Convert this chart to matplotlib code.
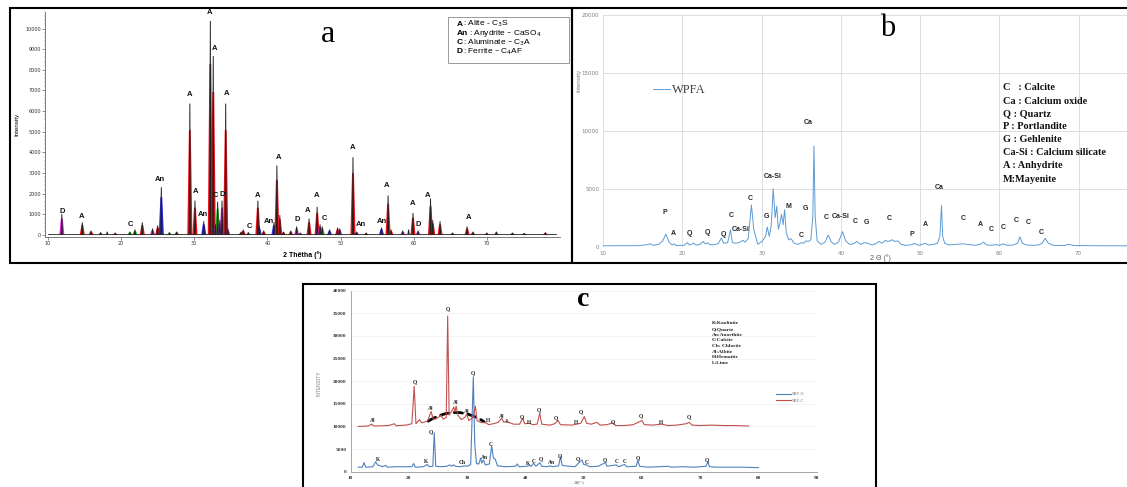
import numpy as np
import matplotlib.pyplot as plt
from matplotlib.patches import Rectangle, FancyArrowPatch
from matplotlib.ticker import MultipleLocator

W, H = 1127, 487


def fx(px):
    return px / W


def fy(py):
    return 1 - py / H


# ---------------- panel a : clinker, peaks by phase ----------------
a_pos = [11.9, 14.7, 15.9, 17.2, 18.1, 19.2, 21.2, 21.9, 22.9, 24.3,
         25.0, 25.5, 26.6, 27.6, 29.4, 30.1, 31.3, 32.2, 32.6, 32.9,
         33.2, 33.5, 33.8, 34.3, 34.6, 36.4, 36.7, 37.4, 38.7, 38.9,
         39.5, 40.9, 41.3, 41.7, 42.2, 43.2, 44.0, 44.5, 45.7, 46.8,
         47.2, 47.5, 48.5, 49.6, 49.9, 51.7, 52.2, 53.5, 55.6, 56.5,
         56.9, 58.5, 59.3, 59.9, 60.6, 62.3, 62.6, 63.6, 65.3, 67.3,
         68.1, 70.0, 71.3, 73.5, 75.1, 78.0]
a_height = [1000, 600, 200, 120, 150, 100, 150, 250, 600, 300,
            450, 2300, 120, 150, 6350, 1650, 650, 10350, 8650, 500,
            1600, 700, 1650, 6350, 300, 150, 250, 120, 1650, 400,
            200, 600, 3350, 950, 150, 200, 400, 100, 780, 1350,
            500, 400, 250, 350, 300, 3750, 150, 100, 350, 1900,
            250, 200, 250, 1050, 200, 1750, 700, 650, 100, 400,
            150, 100, 150, 100, 80, 120]
a_phase = ['D', 'A', 'A', 'C', 'X', 'D', 'C', 'C', 'A', 'D',
           'A', 'An', 'C', 'A', 'A', 'A', 'An', 'A', 'A', 'D',
           'C', 'D', 'D', 'A', 'D', 'A', 'A', 'C', 'A', 'An',
           'A', 'An', 'A', 'A', 'A', 'A', 'D', 'C', 'A', 'A',
           'D', 'C', 'An', 'A', 'D', 'A', 'An', 'A', 'An', 'A',
           'A', 'D', 'X', 'A', 'D', 'A', 'A', 'A', 'A', 'A',
           'A', 'D', 'D', 'An', 'A', 'A']
a_colors = {'A': '#f0101a', 'An': '#2a2ae0', 'C': '#18c018', 'D': '#e528e5'}

a_lab = ['D', 'A', 'C', 'An', 'A', 'A', 'An', 'A', 'A', 'C', 'D', 'A',
         'C', 'A', 'An', 'A', 'D', 'A', 'A', 'C', 'A', 'An', 'An', 'A',
         'A', 'D', 'A', 'A']
a_lab_x = [11.9, 14.65, 21.3, 25.35, 29.35, 30.2, 31.15, 32.1, 32.8, 32.9,
           33.8, 34.4, 37.55, 38.7, 40.2, 41.5, 44.1, 45.5, 46.7, 47.8,
           51.7, 52.8, 55.6, 56.3, 59.8, 60.65, 61.9, 67.45]
a_lab_y = [970, 730, 320, 2530, 6660, 1940, 840, 10600, 8870, 1740,
           1790, 6690, 240, 1740, 480, 3600, 580, 1000, 1730, 650,
           4050, 350, 490, 2220, 1340, 320, 1750, 680]

a_legend_code = ['A', 'An', 'C', 'D']
a_legend_rest = [': Alite - C$_3$S', ': Anydrite \u2013 CaSO$_4$',
                 ': Aluminate \u2013 C$_3$A', ': Ferrite \u2013 C$_4$AF']

# ---------------- panel b : WPFA ----------------
b_theta = [10.0, 14.5, 15.6, 15.9, 16.3, 17.0, 17.5, 17.9, 18.3, 18.7,
           18.9, 19.2, 20.2, 20.6, 20.9, 21.2, 21.4, 21.7, 22.2, 22.6,
           22.9, 23.2, 23.4, 23.8, 24.5, 24.9, 25.2, 25.7, 26.05, 26.3,
           26.8, 27.3, 27.6, 27.9, 28.3, 28.7, 29.0, 29.5, 30.1, 30.5,
           30.7, 30.95, 31.2, 31.45, 31.7, 31.9, 32.1, 32.3, 32.5, 32.7,
           32.9, 33.1, 33.4, 33.7, 34.1, 34.6, 35.0, 35.3, 35.6, 35.9,
           36.2, 36.45, 36.6, 36.75, 37.0, 37.5, 38.0, 38.4, 38.8, 39.2,
           39.7, 40.2, 40.6, 41.1, 41.6, 42.0, 42.5, 43.0, 43.4, 43.9,
           44.4, 44.8, 45.2, 45.6, 45.9, 46.2, 46.5, 46.8, 47.2, 47.6,
           48.2, 48.8, 49.3, 49.8, 50.2, 50.6, 51.1, 51.7, 52.2, 52.5,
           52.7, 52.85, 53.1, 53.6, 54.5, 55.4, 56.2, 57.0, 57.6, 58.0,
           58.4, 59.0, 59.6, 60.0, 60.5, 61.0, 61.8, 62.3, 62.6, 62.9,
           63.4, 64.3, 65.0, 65.4, 65.8, 66.2, 66.8, 67.5, 68.3, 68.7,
           69.5, 71.0, 73.0, 75.0, 77.0, 80.0]
b_counts = [80, 90, 180, 250, 120, 200, 500, 1080, 400, 150,
            250, 100, 120, 350, 150, 200, 320, 130, 200, 450,
            250, 330, 200, 150, 250, 750, 300, 350, 1450, 350,
            300, 400, 550, 400, 700, 3600, 1500, 200, 500, 900,
            1700, 900, 1800, 5000, 2500, 3500, 1500, 2000, 2800, 1900,
            3200, 1200, 600, 700, 300, 200, 350, 300, 500, 450,
            600, 2500, 8700, 2600, 500, 200, 400, 1000, 400, 200,
            400, 1300, 500, 200, 250, 450, 200, 350, 300, 150,
            250, 450, 300, 550, 450, 500, 600, 450, 500, 200,
            120, 150, 280, 120, 200, 280, 150, 200, 300, 900,
            3550, 900, 300, 150, 200, 250, 180, 120, 200, 400,
            150, 120, 180, 120, 250, 120, 150, 300, 850, 300,
            150, 120, 150, 300, 720, 300, 120, 100, 120, 200,
            100, 90, 80, 80, 80, 80]

b_lab = ['P', 'A', 'Q', 'Q', 'Q', 'C', 'Ca-Si', 'C', 'G', 'Ca-Si', 'M',
         'G', 'C', 'Ca', 'C', 'Ca-Si', 'C', 'G', 'C', 'P', 'A', 'Ca',
         'C', 'A', 'C', 'C', 'C', 'C', 'C']
b_lab_x = [17.8, 18.9, 20.9, 23.2, 25.2, 26.2, 27.4, 28.6, 30.6, 31.4, 33.4,
           35.5, 35.0, 35.9, 38.1, 40.0, 41.85, 43.2, 46.1, 49.0, 50.6, 52.4,
           55.4, 57.6, 59.0, 60.5, 62.2, 63.7, 65.3]
b_lab_y = [2950, 1160, 1160, 1220, 1050, 2670, 1450, 4130, 2600, 6020, 3490,
           3280, 960, 10750, 2560, 2620, 2200, 2090, 2410, 1080, 1890, 5090,
           2410, 1890, 1450, 1660, 2270, 2120, 1250]

b_legend = ['C   : Calcite', 'Ca : Calcium oxide', 'Q : Quartz',
            'P : Portlandite', 'G : Gehlenite',
            'Ca-Si : Calcium silicate', 'A : Anhydrite', 'M:Mayenite']

# ---------------- panel c : SBF-C / SBF-G ----------------
c_red_theta = [11.3, 13.0, 13.6, 14.0, 16.5, 17.5, 17.8, 19.5, 20.5, 20.9,
               21.2, 21.8, 22.2, 23.2, 23.8, 24.2, 24.8, 25.5, 25.9, 26.4,
               26.65, 26.9, 27.4, 27.7, 27.9, 28.1, 28.4, 29.0, 29.6, 29.9,
               30.3, 30.8, 31.1, 31.4, 31.7, 32.3, 33.2, 33.7, 34.5, 35.3,
               35.9, 36.3, 36.8, 37.3, 38.0, 39.0, 39.5, 39.9, 40.7, 41.2,
               42.0, 42.45, 42.8, 44.2, 45.0, 45.6, 46.0, 48.0, 49.5, 50.1,
               50.5, 51.3, 52.3, 52.8, 54.0, 55.0, 55.5, 57.0, 58.5, 60.0,
               60.4, 62.0, 63.3, 64.5, 66.0, 67.6, 68.1, 68.6, 70.0, 72.0,
               74.0, 76.0, 78.3]
c_red_counts = [10000, 10100, 10500, 10100, 10200, 10600, 10150, 10300, 10600, 18900,
                10600, 11500, 10800, 11200, 13300, 11500, 11800, 12500, 11600, 12000,
                34400, 12500, 13500, 14300, 13200, 14500, 12500, 11500, 12000, 12700,
                11300, 11800, 12500, 14500, 11300, 10900, 10800, 10400, 10600, 10900,
                11800, 10900, 11200, 10800, 10500, 10500, 11800, 10600, 10700, 10400,
                10500, 12900, 10500, 10300, 10600, 11300, 10400, 10300, 10700, 12200,
                10700, 10500, 10900, 10300, 10400, 10800, 10200, 10200, 10400, 11300,
                10400, 10300, 10500, 10200, 10300, 10600, 10900, 10300, 10200, 10300,
                10200, 10200, 10100]
c_blue_theta = [11.3, 12.0, 12.3, 12.6, 13.8, 14.3, 14.6, 15.5, 16.0, 16.3,
                18.0, 20.5, 20.8, 21.1, 22.5, 23.1, 23.5, 24.1, 24.35, 24.6,
                25.5, 26.5, 27.0, 27.3, 27.6, 28.0, 28.7, 29.6, 30.0, 30.6,
                31.05, 31.3, 31.6, 32.0, 32.3, 32.5, 32.8, 33.1, 33.8, 34.2,
                34.5, 34.8, 35.2, 36.5, 38.3, 38.6, 38.9, 40.3, 40.6, 41.0,
                41.4, 41.8, 42.5, 42.8, 43.7, 44.2, 44.6, 45.7, 46.0, 46.3,
                47.5, 48.5, 49.7, 50.0, 50.5, 51.0, 52.5, 53.7, 54.0, 55.6,
                56.0, 57.0, 57.4, 59.0, 59.3, 59.6, 61.0, 63.0, 64.5, 65.0,
                67.0, 69.0, 71.0, 71.3, 71.6, 73.0, 75.0, 77.0, 80.0]
c_blue_counts = [1000, 1000, 2000, 1000, 1100, 2200, 1500, 1100, 1400, 1000,
                 1100, 1100, 1800, 1000, 1100, 1600, 1100, 1200, 8600, 1200,
                 1100, 1200, 1500, 1200, 1500, 1200, 1100, 1300, 1200, 1600,
                 21000, 6000, 1800, 1700, 3000, 1900, 2600, 1500, 1700, 5700,
                 3000, 2800, 1300, 1100, 1200, 1700, 1100, 1200, 1400, 1200,
                 1900, 1200, 2000, 1200, 1100, 1300, 1100, 1300, 3300, 1400,
                 1200, 1100, 2600, 1600, 1500, 1100, 1200, 2000, 1200, 1500,
                 1100, 1600, 1100, 1200, 2500, 1200, 1000, 1100, 1200, 1000,
                 1100, 1000, 1200, 2200, 1100, 1000, 1000, 1000, 900]

c_lab = ['Al', 'Q', 'Al', 'Q', 'Al', 'Al', 'H', 'Al', 'L', 'Q', 'H', 'Q',
         'Q', 'H', 'Q', 'Q', 'Q', 'H', 'Q',
         'K', 'K', 'Q', 'Ch', 'Q', 'An', 'C', 'K', 'C', 'Q', 'An', 'Q',
         'Q', 'C', 'Q', 'C', 'C', 'Q', 'Q']
c_lab_x = [13.8, 21.0, 23.8, 26.6, 28.1, 29.9, 33.5, 35.9, 37.0, 39.4, 40.7, 42.3,
           45.3, 48.6, 49.6, 55.0, 59.9, 63.3, 68.0,
           14.7, 23.0, 23.8, 29.2, 31.0, 33.0, 34.1, 40.5, 41.5, 42.6, 44.5, 45.9,
           49.0, 50.6, 53.6, 55.7, 57.1, 59.3, 71.1]
c_lab_y = [11280, 19900, 14000, 36100, 15400, 13400, 11400, 12200, 11050, 12200,
           10830, 13600, 11800, 10830, 13270, 11000, 12300, 10830, 12150,
           2800, 2200, 8840, 2000, 21900, 3100, 6040, 1840, 2360, 2950, 2000, 3460,
           2870, 2000, 2580, 2210, 2210, 3000, 2580]

c_legend = ['K:Kaolinite', 'Q:Quartz', 'An:Anorthite', 'C:Calcite',
            'Ch: Chlorite', 'Al:Albite', 'H:Hematite', 'L:Lime']

serif = 'Liberation Serif'
sans = 'Liberation Sans'

fig = plt.figure(figsize=(W / 100, H / 100), dpi=100)

# ================= panel a =================
axa = fig.add_axes([fx(45), fy(236.7), fx(560) - fx(45), fy(12) - fy(236.7)])
axa.set_xlim(9.6, 80)
axa.set_ylim(-80, 10800)
axa.plot([10, 79.5], [50, 50], color='#222222', lw=0.6)
# black measured profile first, phase contributions drawn over it
for p, h in zip(a_pos, a_height):
    axa.plot([p - 0.08, p, p + 0.08], [50, h, 50], color='#222222', lw=0.7)
for p, h, ph in zip(a_pos, a_height, a_phase):
    if ph in a_colors:
        axa.fill([p - 0.35, p - 0.13, p + 0.13, p + 0.35],
                 [0, h * 0.8, h * 0.8, 0], color=a_colors[ph], lw=0)
for t, x, y in zip(a_lab, a_lab_x, a_lab_y):
    axa.text(x, y, t, ha='center', va='bottom', fontsize=5.5,
             fontweight='bold', family=sans, color='#111111')
for s in ['top', 'right']:
    axa.spines[s].set_visible(False)
for s in ['left', 'bottom']:
    axa.spines[s].set_color('#666666')
    axa.spines[s].set_linewidth(0.6)
axa.set_xticks(range(10, 80, 10))
axa.set_yticks(range(0, 10001, 1000))
axa.xaxis.set_minor_locator(MultipleLocator(1))
axa.yaxis.set_minor_locator(MultipleLocator(200))
axa.tick_params(labelsize=3.5, length=2, width=0.4, pad=1, colors='#333333')
axa.tick_params(which='minor', length=1, width=0.3, color='#666666')
axa.set_xlabel('2 Th\u00eatha (\u00b0)', fontsize=5, fontweight='bold',
               family=sans, labelpad=4)
axa.set_ylabel('Intensity', fontsize=4.5, family=sans, labelpad=4)
axa.patch.set_alpha(0)

fig.text(fx(328), fy(35), 'a', fontsize=23, family=serif, ha='center',
         va='center')
fig.add_artist(Rectangle((fx(448), fy(63)), fx(569) - fx(448), fy(17) - fy(63),
                         transform=fig.transFigure, fill=False,
                         ec='#999999', lw=0.7))
for i, (code, rest) in enumerate(zip(a_legend_code, a_legend_rest)):
    yy = fy(24 + 9.2 * i)
    fig.text(fx(456.7), yy, code, fontsize=6, fontweight='bold', family=sans,
             va='center')
    fig.text(fx(456.7 + (12.5 if code == 'An' else 6)), yy, rest,
             fontsize=6, family=sans, va='center')

# ================= panel b =================
axb = fig.add_axes([fx(603.3), fy(246.7), 554.4 / W, fy(15) - fy(246.7)])
axb.set_xlim(10, 80)
axb.set_ylim(0, 20000)
axb.plot(b_theta, b_counts, color='#5b9bd5', lw=0.7, label='WPFA')
axb.set_xticks(range(10, 81, 10))
axb.set_xticklabels([str(v) for v in range(10, 71, 10)] + [''])
axb.set_yticks(range(0, 20001, 5000))
axb.grid(True, color='#d9d9d9', lw=0.6)
axb.set_axisbelow(True)
for s in axb.spines.values():
    s.set_visible(False)
axb.tick_params(labelsize=4, length=0, pad=3, colors='#7f7f7f')
for t, x, y in zip(b_lab, b_lab_x, b_lab_y):
    axb.text(x, y, t, ha='center', va='center', fontsize=5,
             fontweight='bold', family=sans, color='#262626')
axb.legend(loc='upper left', bbox_to_anchor=(0.07, 0.75), frameon=False,
           handlelength=1.3, handletextpad=0.2,
           prop={'family': serif, 'size': 9}, labelcolor='#404040')
fig.text(fx(579), fy(80), 'Intensity', rotation=90, fontsize=4.5,
         color='#7f7f7f', ha='center', va='center', family=sans)
fig.text(fx(880), fy(258), '2 \u0398 (\u00b0)', fontsize=5, color='#595959',
         ha='center', va='center', family=sans)
fig.text(fx(888), fy(29), 'b', fontsize=22, family=serif, ha='center',
         va='center')
for i, line in enumerate(b_legend):
    fig.text(fx(1003), fy(88 + 13 * i), line, fontsize=7.4,
             fontweight='bold', family=serif, va='center', color='#111111')

# ================= panel c =================
axc = fig.add_axes([fx(350.7), fy(471.7), fx(816.7) - fx(350.7),
                    fy(290.7) - fy(471.7)])
axc.set_xlim(10, 90)
axc.set_ylim(0, 40000)
axc.plot(c_blue_theta, c_blue_counts, color='#4f81bd', lw=0.8, label='SBF-G')
axc.plot(c_red_theta, c_red_counts, color='#c0504d', lw=0.8, label='SBF-C')
axc.set_xticks(range(10, 91, 10))
axc.set_yticks(range(0, 40001, 5000))
axc.grid(True, axis='y', color='#eeeeee', lw=0.5)
axc.set_axisbelow(True)
for s in ['top', 'right']:
    axc.spines[s].set_visible(False)
for s in ['left', 'bottom']:
    axc.spines[s].set_color('#a6a6a6')
    axc.spines[s].set_linewidth(0.7)
axc.tick_params(labelsize=3.8, length=0, pad=3, colors='#333333')
for lab in axc.get_xticklabels() + axc.get_yticklabels():
    lab.set_family(serif)
    lab.set_fontweight('bold')
for t, x, y in zip(c_lab, c_lab_x, c_lab_y):
    axc.text(x, y, t, ha='center', va='center', fontsize=4,
             fontweight='bold', family=serif, color='#222222')
axc.add_patch(FancyArrowPatch((22.9, 10830), (33.3, 10690),
                              connectionstyle='arc3,rad=-0.35',
                              arrowstyle='-', linestyle=(0, (3, 2)),
                              lw=2, color='black'))
axc.legend(loc='upper left', bbox_to_anchor=(0.905, 0.46), frameon=False,
           handlelength=3.5, handletextpad=0.3, labelspacing=0.6,
           prop={'family': sans, 'size': 3}, labelcolor='#7f7f7f')
fig.text(fx(319), fy(383), 'INTENSITY', rotation=90, fontsize=3.5,
         color='#7f7f7f', ha='center', va='center', family=sans)
fig.text(fx(579), fy(482), '2\u03b8(\u00b0)', fontsize=3.8, color='#555555',
         ha='center', va='center', family=serif)
fig.text(fx(583), fy(300), 'c', fontsize=20, fontweight='bold', family=serif,
         ha='center', va='center')
for i, line in enumerate(c_legend):
    fig.text(fx(711.7), fy(323.3 + 5.7 * i), line, fontsize=3.9,
             fontweight='bold', family=serif, va='center', color='#222222')

# frames
for x0, y0, x1, y1 in [(10, 8, 572, 263), (572, 8, 1140, 263),
                       (303, 284, 876, 500)]:
    fig.add_artist(Rectangle((fx(x0), fy(y1)), fx(x1) - fx(x0), fy(y0) - fy(y1),
                             transform=fig.transFigure, fill=False,
                             ec='black', lw=1.5))

fig.savefig('out.png', dpi=100)
